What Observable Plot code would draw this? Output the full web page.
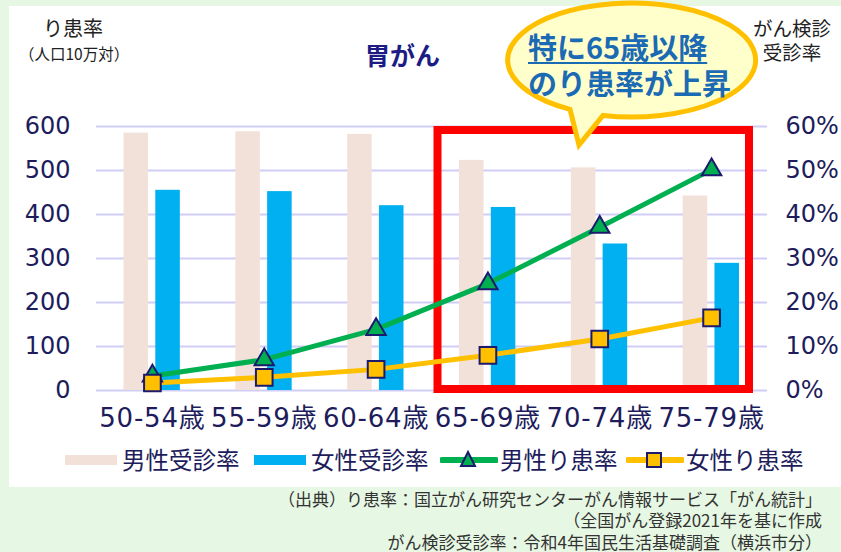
<!DOCTYPE html>
<html><head><meta charset="utf-8">
<script src="https://cdn.jsdelivr.net/npm/d3@7"></script>
<script src="https://cdn.jsdelivr.net/npm/@observablehq/plot@0.6"></script>
<style>
body{margin:0;background:#e6f8e3;}
#wrap{position:relative;width:841px;height:552px;overflow:hidden;font-family:"Noto Sans CJK JP",sans-serif;}
#panel{position:absolute;left:9px;top:6px;width:832px;height:481px;background:#fff;}
.abs{position:absolute;white-space:nowrap;line-height:1;}
#plot{position:absolute;left:0;top:0;}
#bubble{position:absolute;left:0;top:0;}
#plot g[aria-label="x-axis tick label"] text{letter-spacing:0.8px;}
</style></head><body><div id="wrap"><div id="panel"></div><div id="plot"></div></div>
<script>
// ---- data ----
const ages = ["50-54歳", "55-59歳", "60-64歳", "65-69歳", "70-74歳", "75-79歳"];
const maleScreening = [58.5, 58.8, 58.2, 52.3, 50.6, 44.2];     // がん検診受診率（男性, %）
const femaleScreening = [45.5, 45.2, 42.0, 41.6, 33.3, 28.9];   // がん検診受診率（女性, %）
const maleIncidence = [33, 70, 139, 243, 371, 502];             // り患率（男性, 人口10万対）
const femaleIncidence = [17, 30, 48, 80, 117, 165];             // り患率（女性, 人口10万対）
const leftTicks = [0, 100, 200, 300, 400, 500, 600];
const rightTickLabels = ["0%", "10%", "20%", "30%", "40%", "50%", "60%"];
const highlighted = ["65-69歳", "75-79歳"];
const seriesNames = ["男性受診率", "女性受診率", "男性り患率", "女性り患率"];
const calloutLines = ["特に65歳以降", "のり患率が上昇"];
const leftTitle = ["り患率", "（人口10万対）"];
const rightTitle = ["がん検診", "受診率"];
const sourceLines = [
  "（出典）り患率：国立がん研究センターがん情報サービス「がん統計」",
  "（全国がん登録2021年を基に作成",
  "がん検診受診率：令和4年国民生活基礎調査（横浜市分）"
];

const data = ages.map((age, i) => ({
  age, maleScr: maleScreening[i], femaleScr: femaleScreening[i],
  maleInc: maleIncidence[i], femaleInc: femaleIncidence[i]
}));

const navy = "#201c5c";
const pink = "#f2e1d9", blue = "#00b0f0", green = "#00b050", gold = "#ffc000", mk = "#1c1a6e";

function redBox(index, {x, y}) {
  const bw = x.bandwidth ? x.bandwidth() : 0;
  const x0 = x(highlighted[0]) + 6, x1 = x(highlighted[1]) + bw - 18;
  const y0 = y(600) + 4, y1 = y(0) - 1;
  const g = d3.create("svg:rect")
    .attr("x", x0).attr("y", y0).attr("width", x1 - x0).attr("height", y1 - y0)
    .attr("fill", "none").attr("stroke", "#ff0000").attr("stroke-width", 8);
  return g.node();
}

const chart = Plot.plot({
  width: 841, height: 552,
  marginLeft: 96, marginRight: 74, marginTop: 126, marginBottom: 162,
  style: {background: "transparent", fontFamily: "'DejaVu Sans','Noto Sans CJK JP',sans-serif", color: navy, overflow: "visible"},
  x: {type: "band", domain: ages, padding: 0, round: false},
  y: {domain: [0, 600]},
  marks: [
    Plot.ruleY(leftTicks, {stroke: "#cfcdf5", strokeWidth: 2}),
    Plot.barY(data, {x: "age", y: d => d.maleScr * 10, fill: pink, insetLeft: 27.5, insetRight: 59.8}),
    Plot.barY(data, {x: "age", y: d => d.femaleScr * 10, fill: blue, insetLeft: 59.3, insetRight: 28}),
    redBox,
    Plot.line(data, {x: "age", y: "maleInc", stroke: green, strokeWidth: 5}),
    Plot.line(data, {x: "age", y: "femaleInc", stroke: gold, strokeWidth: 5}),
    Plot.dot(data, {x: "age", y: "maleInc", symbol: "triangle", r: 7.2, fill: green, stroke: mk, strokeWidth: 2}),
    Plot.dot(data, {x: "age", y: "femaleInc", symbol: "square", r: 9.4, fill: gold, stroke: mk, strokeWidth: 2}),
    Plot.axisY({anchor: "left", ticks: leftTicks, tickSize: 0, tickPadding: 26, fontSize: 24, fill: navy, label: null}),
    Plot.axisY({anchor: "right", ticks: leftTicks, tickSize: 0, tickPadding: 18, fontSize: 24, fill: navy, label: null,
      tickFormat: d => rightTickLabels[leftTicks.indexOf(d)]}),
    Plot.axisX({tickSize: 0, tickPadding: 18, fontSize: 26, fill: navy, label: null})
  ]
});
document.getElementById("plot").appendChild(chart);

const wrap = document.getElementById("wrap");
function addText(txt, css) {
  const d = document.createElement("div");
  d.className = "abs"; d.textContent = txt;
  Object.assign(d.style, css);
  wrap.appendChild(d);
  return d;
}
// multi-line text as one element, lines separated by <br>
function addLines(lines, css, spanCss) {
  const d = document.createElement("div");
  d.className = "abs";
  Object.assign(d.style, css);
  lines.forEach((t, i) => {
    if (i > 0) d.appendChild(document.createElement("br"));
    if (spanCss && spanCss[i]) {
      const s = document.createElement("span");
      s.textContent = t;
      s.style.cssText = spanCss[i];
      d.appendChild(s);
    } else {
      d.appendChild(document.createTextNode(t));
    }
  });
  wrap.appendChild(d);
  return d;
}

// callout bubble
const bub = d3.select(wrap).append("svg").attr("id", "bubble").attr("width", 841).attr("height", 552)
  .style("pointer-events", "none");
bub.append("path")
  .attr("d", "M570,109.4 L579,145 L603,115.4 A124 57 0 1 0 570,109.4 Z")
  .attr("fill", "#ffffcc").attr("stroke", gold).attr("stroke-width", 5).attr("stroke-linejoin", "miter");

addLines(calloutLines, {left: "528px", top: "27.5px", fontSize: "29px", lineHeight: "36px", fontWeight: "700", color: "#1b6ab4"},
  ["text-decoration:underline;text-underline-offset:3px;text-decoration-thickness:2px"]);

// titles
addText("胃がん", {left: "365px", top: "42px", fontSize: "25px", fontWeight: "700", color: "#1c1c84"});
addLines(leftTitle, {left: "19px", top: "16px", color: "#222", lineHeight: "24px", fontSize: "15.5px"},
  ["font-size:20px;padding-left:24px"]);
addLines(rightTitle, {left: "752px", top: "16px", width: "80px", textAlign: "center", fontSize: "19.5px", lineHeight: "23.5px", color: "#222"});

// legend
function swatchSVG(kind) {
  const s = d3.create("svg").attr("width", 58).attr("height", 24);
  if (kind === 0 || kind === 1) {
    s.append("rect").attr("x", 0).attr("y", 7).attr("width", 52).attr("height", 10).attr("fill", kind === 0 ? pink : blue);
  } else {
    s.append("line").attr("x1", 2).attr("x2", 56).attr("y1", 12).attr("y2", 12)
      .attr("stroke", kind === 2 ? green : gold).attr("stroke-width", 6).attr("stroke-linecap", "round");
    if (kind === 2) s.append("path").attr("d", "M28,4 L35,18 L21,18 Z").attr("fill", green).attr("stroke", mk).attr("stroke-width", 2);
    else s.append("rect").attr("x", 21).attr("y", 5).attr("width", 14).attr("height", 14).attr("fill", gold).attr("stroke", mk).attr("stroke-width", 2);
  }
  return s.node();
}
const legX = [[65, 122], [254, 311], [440, 500], [626, 686]];
seriesNames.forEach((name, i) => {
  const sw = swatchSVG(i);
  sw.style.position = "absolute";
  sw.style.left = legX[i][0] + "px";
  sw.style.top = "448px";
  wrap.appendChild(sw);
  addText(name, {left: legX[i][1] + "px", top: "448px", fontSize: "23.5px", color: navy});
});

// source
addLines(sourceLines, {right: "19px", top: "487.5px", fontSize: "17px", lineHeight: "21.5px", textAlign: "right", color: "#333"});
</script></body></html>
